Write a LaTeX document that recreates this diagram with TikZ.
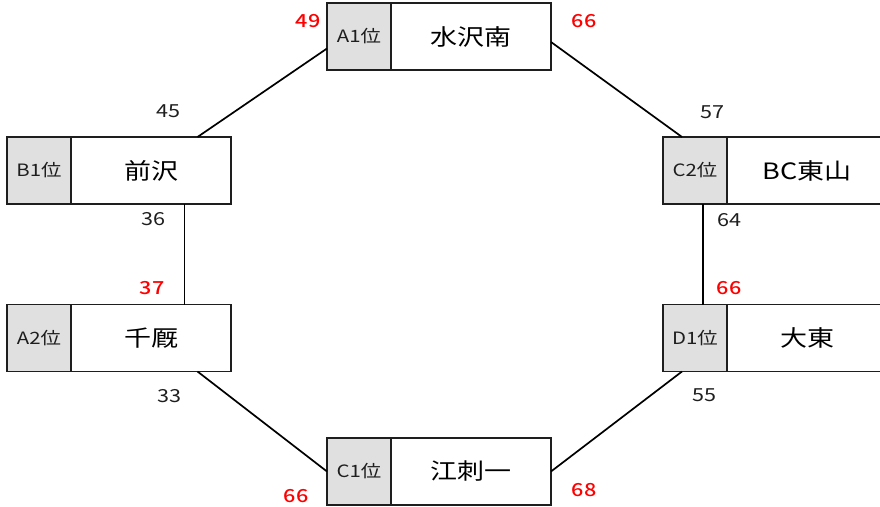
\documentclass[tikz,border=0pt]{standalone}
\usepackage{fontspec}
\setmainfont{Noto Sans CJK JP}[FakeStretch=1.2]
\newfontfamily\numbold{Noto Sans CJK JP Medium}[FakeStretch=1.2]
\definecolor{labfill}{HTML}{E0E0E0}
\definecolor{ink}{HTML}{1E1E1E}
\definecolor{rednum}{HTML}{FF0000}
\tikzset{
  labbox/.style={draw=ink, fill=labfill, line width=1.6pt, minimum width=64pt, minimum height=67pt, inner sep=0pt, outer sep=0pt, font=\fontsize{17}{17}\selectfont, text=ink},
  namebox/.style={draw=ink, fill=white, line width=1.6pt, minimum width=160pt, minimum height=67pt, inner sep=0pt, outer sep=0pt, font=\fontsize{22.5}{22.5}\selectfont, text=black, anchor=west},
  num/.style={font=\fontsize{18}{18}\selectfont, text=ink, inner sep=0pt},
  rnum/.style={font=\fontsize{18}{18}\numbold, text=rednum, inner sep=0pt},
  link/.style={line width=1.7pt, draw=black}
}
\begin{document}
\begin{tikzpicture}[x=1pt,y=-1pt]
\useasboundingbox (0,0) rectangle (880,506);
% stations
\node[labbox] (a1l) at (359,36.5) {A1位};
\node[namebox] (a1n) at (a1l.east) {水沢南};
\node[labbox] (b1l) at (39,170.5) {B1位};
\node[namebox] (b1n) at (b1l.east) {前沢};
\node[labbox] (a2l) at (39,338) {A2位};
\node[namebox] (a2n) at (a2l.east) {千厩};
\node[labbox] (c2l) at (695,170.5) {C2位};
\node[namebox] (c2n) at (c2l.east) {BC東山};
\node[labbox] (d1l) at (695,338) {D1位};
\node[namebox] (d1n) at (d1l.east) {大東};
\node[labbox] (c1l) at (359,471.5) {C1位};
\node[namebox] (c1n) at (c1l.east) {江刺一};
% connectors
\draw[link] ([yshift=-12pt]a1l.west) -- ([xshift=46.5pt]b1n.north);
\draw[link] ([yshift=-5.5pt]a1n.east) -- ([xshift=-13pt]c2l.north);
\draw[link] ([xshift=33.5pt]b1n.south) -- ([xshift=33.5pt]a2n.north);
\draw[link] ([xshift=46.5pt]a2n.south) -- (c1l.west);
\draw[link] (c1n.east) -- ([xshift=-13pt]d1l.south);
\draw[link] ([xshift=8pt]c2l.south) -- ([xshift=8pt]d1l.north);
% numbers
\node[rnum] (n49) at (308,21) {49};
\node[rnum] (n66a) at (584,21) {66};
\node[num] (n45) at (168,111) {45};
\node[num] (n57) at (712,112) {57};
\node[num] (n36) at (153,219) {36};
\node[num] (n64) at (729,220) {64};
\node[rnum] (n37) at (152,288) {37};
\node[rnum] (n66b) at (729,288) {66};
\node[num] (n33) at (169,396) {33};
\node[num] (n55) at (704,395) {55};
\node[rnum] (n66c) at (296,496) {66};
\node[rnum] (n68) at (584,490) {68};
\end{tikzpicture}
\end{document}
